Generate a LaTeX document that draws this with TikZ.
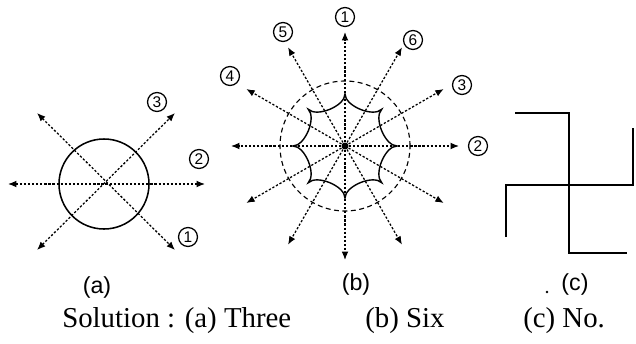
\documentclass[tikz,border=0pt]{standalone}
\usepackage{fontspec}
\newfontfamily\labelfont{Liberation Sans}
\newfontfamily\answerfont{Liberation Serif}
\usetikzlibrary{arrows.meta}

\tikzset{
  ray/.style={line width=0.9pt,dash pattern=on 1.6pt off 1.3pt},
  tip/.style={-{Latex[length=2.1mm,width=1.7mm]}},
  numc/.style={circle,draw,line width=0.9pt,inner sep=0pt,minimum size=13.5pt,
    font=\labelfont\fontsize{11}{11}\selectfont},
  arm/.style={line width=1.2pt},
  caption/.style={font=\labelfont\fontsize{16.5}{16.5}\selectfont},
  answer/.style={anchor=base west,inner sep=0pt,font=\answerfont\fontsize{20.5}{22}\selectfont}
}

\begin{document}
\begin{tikzpicture}[x=0.025cm,y=0.025cm]
\useasboundingbox (0,0) rectangle (636,343);

% (a) circle
\coordinate (A) at (104,159);
\draw[line width=1.1pt] (A) circle (45);
\coordinate (aL) at (8,159);
\coordinate (aR) at (205,159);
\coordinate (aUL) at (37,230);
\coordinate (aLR) at (175,93);
\coordinate (aUR) at (175,230);
\coordinate (aLL) at (37,93);
\draw[ray,{Latex[length=2.1mm,width=1.7mm]}-{Latex[length=2.1mm,width=1.7mm]}] (aL) -- (aR);
\draw[ray,{Latex[length=2.1mm,width=1.7mm]}-{Latex[length=2.1mm,width=1.7mm]}] (aUL) -- (aLR);
\draw[ray,{Latex[length=2.1mm,width=1.7mm]}-{Latex[length=2.1mm,width=1.7mm]}] (aLL) -- (aUR);
\node[numc] (a1) at (188,106) {1};
\node[numc] (a2) at (199,184) {2};
\node[numc] (a3) at (157,241) {3};
\node[caption] (capa) at (97,56) {(a)};

% (b) star
\coordinate (B) at (345,197);
\draw[line width=0.8pt,dash pattern=on 3.5pt off 2.5pt] (B) circle (65);
\begin{scope}[shift={(B)}]
\draw[line width=1pt] (0:52)
  \foreach \t in {0,45,...,315}{ .. controls (\t:40) and (\t+45:40) .. (\t+45:52)} -- cycle;
\foreach \t in {0,30,...,330}
  \coordinate (b\t) at (\t:114);
\end{scope}
\foreach \t in {0,30,...,330}
  \draw[ray,tip] (B) -- (b\t);
\fill (B) circle (3.5);
\node[numc] (b1) at (345,326) {1};
\node[numc] (b2) at (478,197) {2};
\node[numc] (b3) at (462,258) {3};
\node[numc] (b4) at (230,267) {4};
\node[numc] (b5) at (283,311) {5};
\node[numc] (b6) at (413,303) {6};
\node[caption] (capb) at (356,59) {(b)};

% (c) cross
\coordinate (cT) at (569,230);
\coordinate (cTL) at (515,230);
\coordinate (cB) at (569,90);
\coordinate (cBR) at (627,90);
\coordinate (cL) at (506,158);
\coordinate (cLB) at (506,106);
\coordinate (cR) at (633,158);
\coordinate (cRT) at (633,215);
\draw[arm] (cTL) -- (cT) -- (cB) -- (cBR);
\draw[arm] (cLB) -- (cL) -- (cR) -- (cRT);
\fill (547,51) circle (1.3);
\node[caption] (capc) at (575,59) {(c)};

% answers
\node[answer] (ansa) at (62,16) {Solution : (a) Three};
\node[answer] (ansb) at (365,16) {(b) Six};
\node[answer] (ansc) at (523,16) {(c) No.};

\end{tikzpicture}
\end{document}
